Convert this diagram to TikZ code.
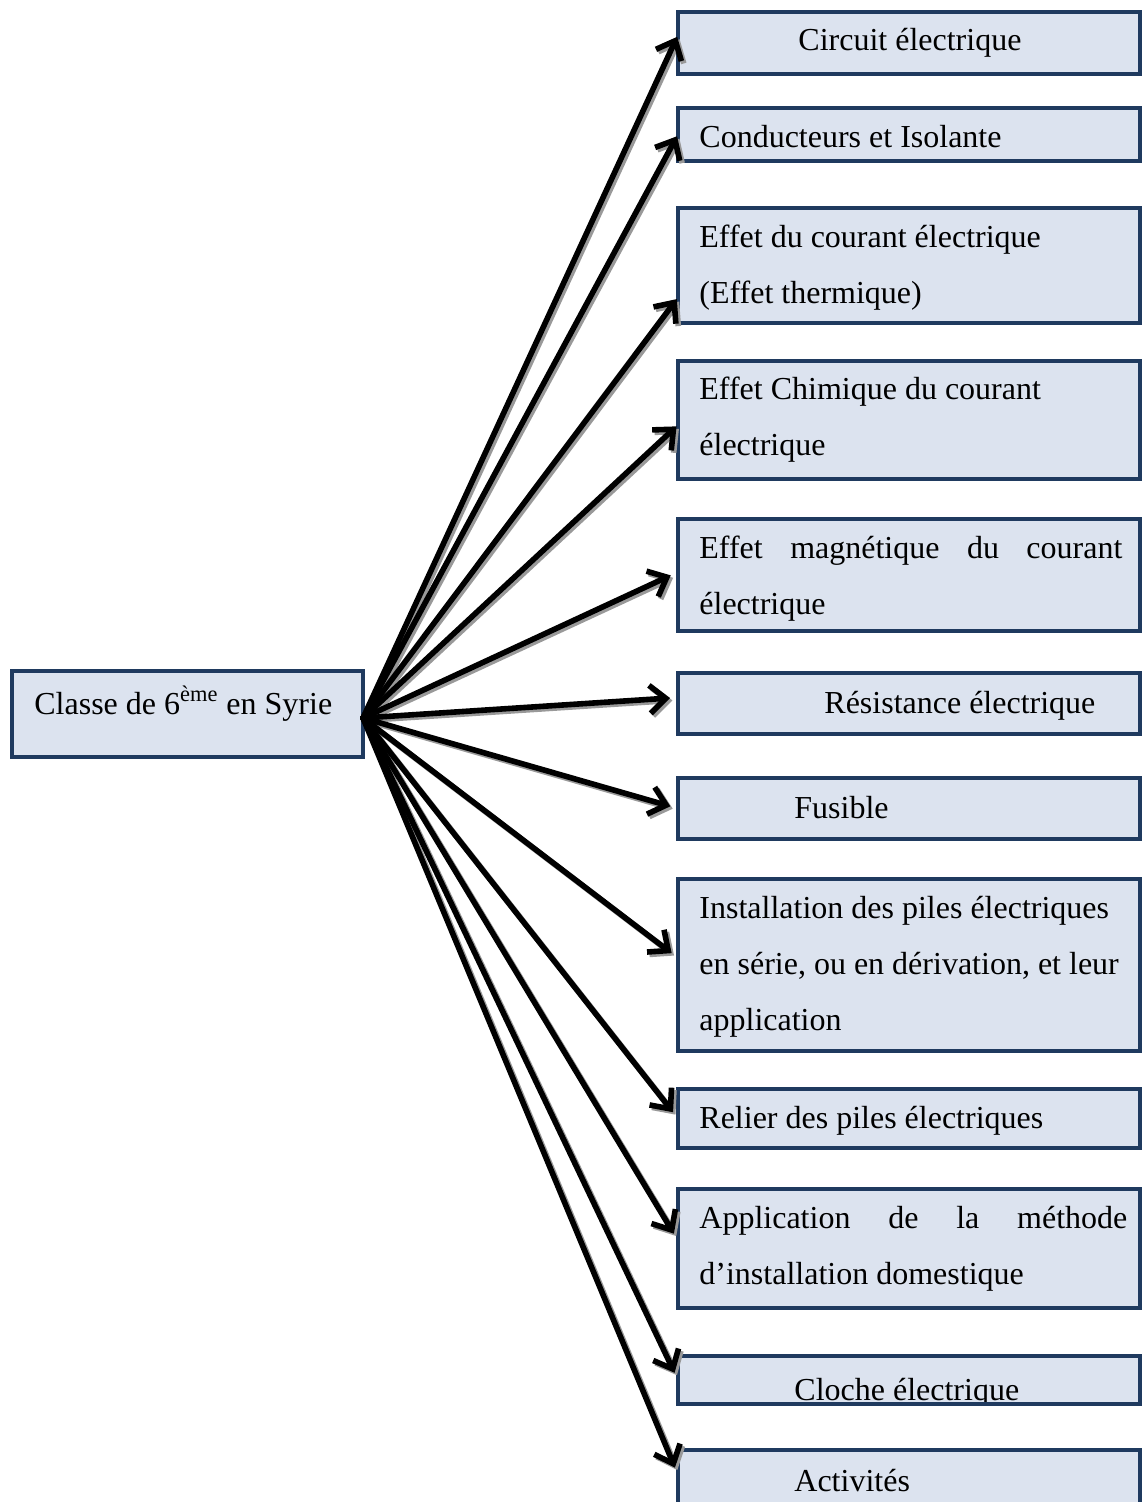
\documentclass[tikz,border=0pt]{standalone}
\usepackage{fontspec}
\setmainfont{Liberation Serif}
\usetikzlibrary{arrows.meta}

\definecolor{boxline}{HTML}{1F3A5F}
\definecolor{boxfill}{HTML}{DCE3EF}

\tikzset{
  box/.style={draw=boxline, fill=boxfill, line width=2.4pt, anchor=north west,
              inner sep=0pt, outer sep=0pt, minimum width=231pt},
  txt/.style={anchor=base west, inner sep=0pt, font=\fontsize{16}{28}\selectfont},
  link/.style={line width=2.8pt, line cap=round, -{Straight Barb[length=8pt,width=14pt]}},
  linkshade/.style={link, draw=black!40, transform canvas={shift={(1.2pt,-1.2pt)}}},
}
\newcommand{\lines}[2][212pt]{\parbox[t]{#1}{#2}}

\begin{document}
\begin{tikzpicture}[x=0.5pt, y=-0.5pt]
    \useasboundingbox (0,0) rectangle (1142,1502);

    % source
    \node[box, minimum width=175.5pt, minimum height=43pt] (main) at (12,671) {};
    \node[txt] (t0) at (34,714) {Classe de 6\textsuperscript{ème} en Syrie};

    % targets
    \node[box, minimum height=31pt]   (b1)  at (678,12)   {};
    \node[box, minimum height=26.5pt] (b2)  at (678,108)  {};
    \node[box, minimum height=57.5pt] (b3)  at (678,208)  {};
    \node[box, minimum height=59pt]   (b4)  at (678,361)  {};
    \node[box, minimum height=56pt]   (b5)  at (678,519)  {};
    \node[box, minimum height=30.5pt] (b6)  at (678,673)  {};
    \node[box, minimum height=30.5pt] (b7)  at (678,778)  {};
    \node[box, minimum height=86pt]   (b8)  at (678,879)  {};
    \node[box, minimum height=29.5pt] (b9)  at (678,1089) {};
    \node[box, minimum height=59.5pt] (b10) at (678,1189) {};
    \node[box, minimum height=24pt]   (b11) at (678,1356) {};
    \node[box, minimum height=40pt]   (b12) at (678,1450) {};

    \node[txt] (t1) at (798,51)  {Circuit électrique};
    \node[txt] (t2) at (699,148) {Conducteurs et Isolante};
    \node[txt] (t3) at (699,248) {\lines{Effet du courant électrique\\(Effet thermique)}};
    \node[txt] (t4) at (699,400) {\lines{Effet Chimique du courant\\électrique}};
    \node[txt] (t5) at (699,558) {\lines[211.5pt]{Effet magnétique du courant\linebreak électrique}};
    \node[txt] (t6) at (824,713) {Résistance électrique};
    \node[txt] (t7) at (794,818) {Fusible};
    \node[txt] (t8) at (699,918) {\lines[220pt]{Installation des piles électriques\\en série, ou en dérivation, et leur\\application}};
    \node[txt] (t9) at (699,1128) {Relier des piles électriques};
    \node[txt] (t10) at (699,1228) {\lines[214pt]{Application de la méthode\linebreak d’installation domestique}};
    \begin{scope}
      \clip ([yshift=1.2pt]b11.south west) rectangle (b11.north east);
      \node[txt] (t11) at (794,1400) {Cloche électrique};
    \end{scope}
    \node[txt] (t12) at (794,1491) {Activités};

    % arrows
    \coordinate (hub) at ([yshift=-2pt]main.east);
    \foreach \n/\dy/\gap in {b1/4/1, b2/0/1, b3/-16/1, b4/-2.5/1, b5/1.5/4, b6/3/4,
                             b7/0/4, b8/3.5/4, b9/0/4, b10/4/4, b11/0/4, b12/7.5/4}
      \draw[linkshade, shorten >=\gap pt] (hub) -- ([yshift=\dy pt]\n.west);
    \foreach \n/\dy/\gap in {b1/4/1, b2/0/1, b3/-16/1, b4/-2.5/1, b5/1.5/4, b6/3/4,
                             b7/0/4, b8/3.5/4, b9/0/4, b10/4/4, b11/0/4, b12/7.5/4}
      \draw[link, shorten >=\gap pt] (hub) -- ([yshift=\dy pt]\n.west);
\end{tikzpicture}
\end{document}
